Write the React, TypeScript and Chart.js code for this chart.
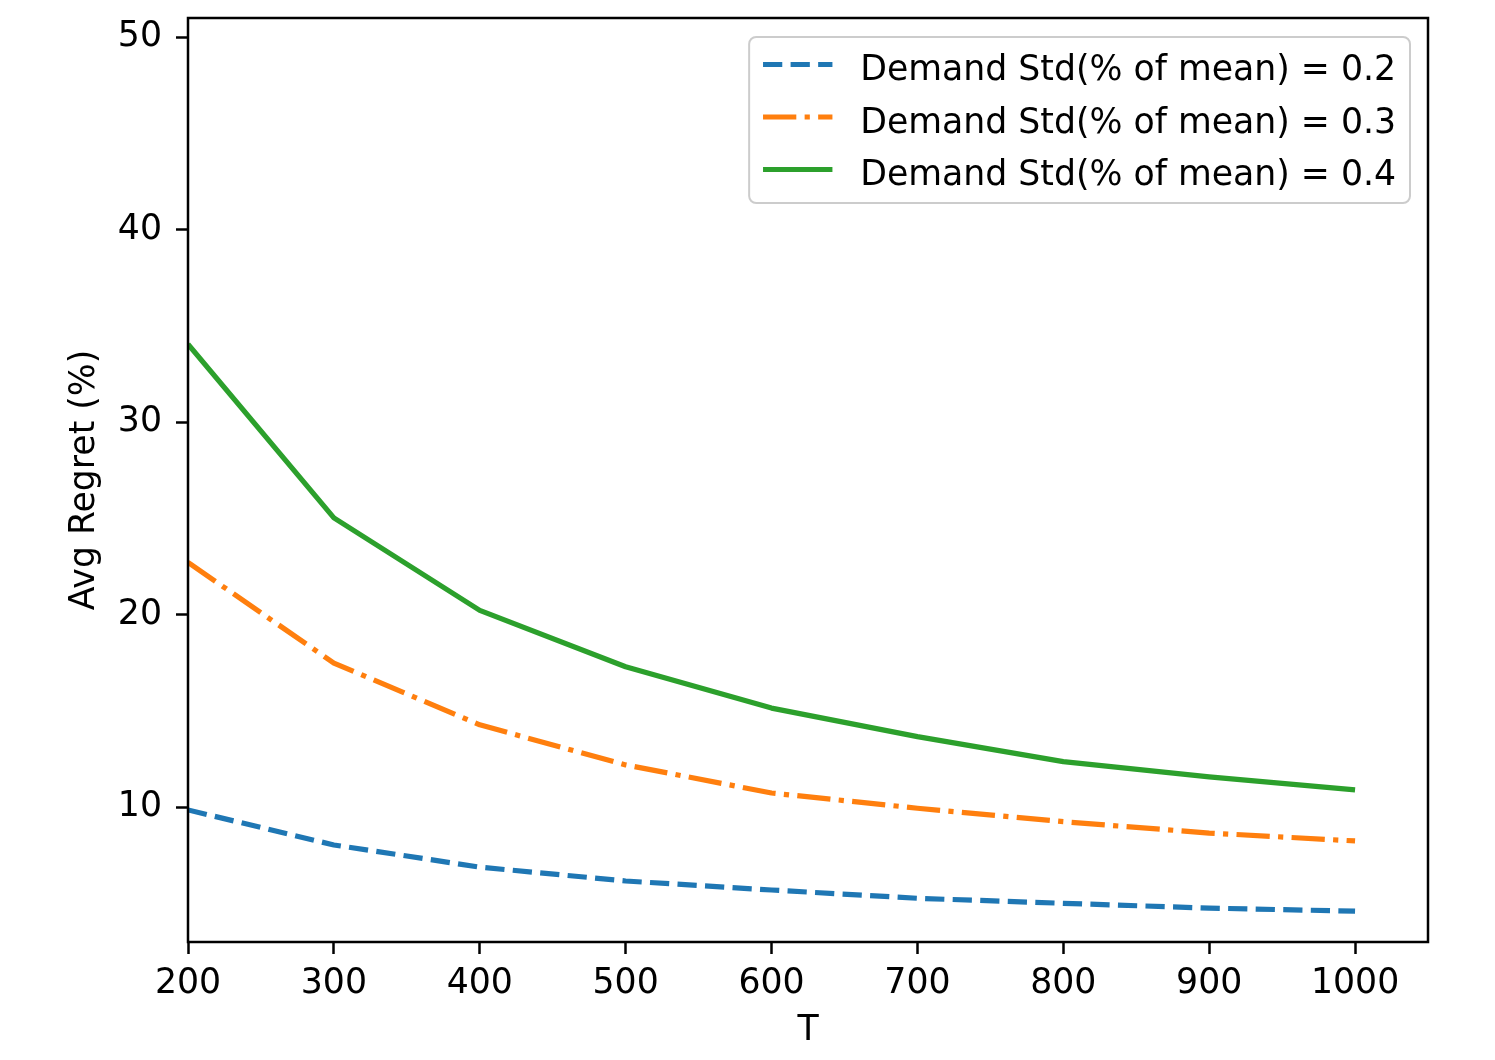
import React, { useEffect, useRef } from 'react';
import { Chart, registerables } from 'chart.js';

Chart.register(...registerables);

// values
const tValues = [200, 300, 400, 500, 600, 700, 800, 900, 1000];
const regretStd02 = [9.86, 8.04, 6.89, 6.17, 5.70, 5.27, 5.01, 4.76, 4.60];
const regretStd03 = [22.72, 17.49, 14.28, 12.20, 10.74, 9.95, 9.25, 8.66, 8.25];
const regretStd04 = [34.05, 25.03, 20.23, 17.30, 15.15, 13.67, 12.37, 11.58, 10.90];
const seriesLabels = [
    'Demand Std(% of mean) = 0.2',
    'Demand Std(% of mean) = 0.3',
    'Demand Std(% of mean) = 0.4',
];
const xTickValues = [200, 300, 400, 500, 600, 700, 800, 900, 1000];
const yTickValues = [10, 20, 30, 40, 50];

const FONT_FAMILY = '"DejaVu Sans", sans-serif';
const FONT_SIZE = 34.7;
const LW = 5.2; // matplotlib 1.5pt at this resolution

// full axes frame, drawn over the lines like matplotlib spines
const framePlugin = {
    id: 'frame',
    afterDatasetsDraw(chart) {
        const { ctx, chartArea } = chart;
        ctx.save();
        ctx.strokeStyle = '#000';
        ctx.lineWidth = 2.5;
        ctx.strokeRect(chartArea.left, chartArea.top, chartArea.right - chartArea.left, chartArea.bottom - chartArea.top);
        ctx.restore();
    },
};

// legend placed inside the axes at the upper right
const insideLegendPlugin = {
    id: 'insideLegend',
    afterDraw(chart) {
        const { ctx, chartArea } = chart;
        const datasets = chart.data.datasets;
        ctx.save();
        ctx.font = `${FONT_SIZE}px ${FONT_FAMILY}`;
        const textWidth = Math.max(...datasets.map(d => ctx.measureText(d.label).width));
        const borderPad = 0.4 * FONT_SIZE;
        const handleLen = 2.0 * FONT_SIZE;
        const handlePad = 0.8 * FONT_SIZE;
        const right = chartArea.right - 18;
        const top = chartArea.top + 19;
        const width = borderPad * 2 + handleLen + handlePad + textWidth;
        const left = right - width;
        const rowGap = 52.5;
        const height = 166;

        ctx.beginPath();
        ctx.roundRect(left, top, width, height, 7);
        ctx.fillStyle = 'rgba(255,255,255,0.8)';
        ctx.fill();
        ctx.strokeStyle = '#cccccc';
        ctx.lineWidth = 2;
        ctx.stroke();

        datasets.forEach((d, i) => {
            const y = top + 27.5 + i * rowGap;
            const hx = left + borderPad;
            ctx.beginPath();
            ctx.setLineDash(d.borderDash || []);
            ctx.lineDashOffset = 0;
            ctx.lineCap = 'butt';
            ctx.strokeStyle = d.borderColor;
            ctx.lineWidth = LW;
            ctx.moveTo(hx, y);
            ctx.lineTo(hx + handleLen, y);
            ctx.stroke();
            ctx.setLineDash([]);
            ctx.fillStyle = '#000';
            ctx.textAlign = 'left';
            ctx.textBaseline = 'alphabetic';
            ctx.fillText(d.label, hx + handleLen + handlePad, y + 15.5);
        });
        ctx.restore();
    },
};

const RegretChart = () => {
    const chartRef = useRef(null);
    const chartInstanceRef = useRef(null);

    useEffect(() => {
        if (!chartRef.current) return;
        const ctx = chartRef.current.getContext('2d');
        if (!ctx) return;

        const toPoints = (vals) => vals.map((v, i) => ({ x: tValues[i], y: v }));
        const font = { family: FONT_FAMILY, size: FONT_SIZE };

        const config = {
            type: 'line',
            data: {
                datasets: [
                    {
                        label: seriesLabels[0],
                        data: toPoints(regretStd02),
                        borderColor: '#1f77b4',
                        borderDash: [3.7 * LW, 1.6 * LW],
                    },
                    {
                        label: seriesLabels[1],
                        data: toPoints(regretStd03),
                        borderColor: '#ff7f0e',
                        borderDash: [6.4 * LW, 1.6 * LW, 1.0 * LW, 1.6 * LW],
                    },
                    {
                        label: seriesLabels[2],
                        data: toPoints(regretStd04),
                        borderColor: '#2ca02c',
                    },
                ].map(d => ({
                    ...d,
                    borderWidth: LW,
                    pointRadius: 0,
                    tension: 0,
                    fill: false,
                    borderJoinStyle: 'round',
                    borderCapStyle: 'butt',
                })),
            },
            options: {
                animation: false,
                responsive: true,
                maintainAspectRatio: false,
                layout: {
                    autoPadding: false,
                    padding: { left: 0, top: 18, right: 67, bottom: 0 },
                },
                scales: {
                    x: {
                        type: 'linear',
                        min: 200,
                        max: 1050,
                        afterBuildTicks: (scale) => { scale.ticks = xTickValues.map(value => ({ value })); },
                        afterFit: (scale) => {
                            scale.height = 118;
                            scale.paddingLeft = 0;
                            scale.paddingRight = 0;
                        },
                        ticks: {
                            callback: (value) => String(value),
                            color: '#000',
                            font,
                            padding: 9,
                            maxRotation: 0,
                            autoSkip: false,
                        },
                        grid: {
                            drawOnChartArea: false,
                            drawTicks: true,
                            tickLength: 12,
                            tickWidth: 2.5,
                            tickColor: '#000',
                        },
                        border: { display: false },
                        title: {
                            display: true,
                            text: 'T',
                            color: '#000',
                            font,
                            padding: { top: 0, bottom: 8 },
                        },
                    },
                    y: {
                        type: 'linear',
                        min: 3,
                        max: 51,
                        afterBuildTicks: (scale) => { scale.ticks = yTickValues.map(value => ({ value })); },
                        afterFit: (scale) => {
                            scale.width = 188;
                            scale.paddingTop = 0;
                            scale.paddingBottom = 0;
                        },
                        ticks: {
                            callback: (value) => String(value),
                            color: '#000',
                            font,
                            padding: 14,
                        },
                        grid: {
                            drawOnChartArea: false,
                            drawTicks: true,
                            tickLength: 12,
                            tickWidth: 2.5,
                            tickColor: '#000',
                        },
                        border: { display: false },
                        title: {
                            display: true,
                            text: 'Avg Regret (%)',
                            color: '#000',
                            font,
                            padding: { top: 64, bottom: 0 },
                        },
                    },
                },
                plugins: {
                    legend: { display: false },
                    tooltip: { enabled: false },
                },
            },
            plugins: [framePlugin, insideLegendPlugin],
        };

        chartInstanceRef.current = new Chart(ctx, config);

        return () => {
            if (chartInstanceRef.current) {
                chartInstanceRef.current.destroy();
                chartInstanceRef.current = null;
            }
        };
    }, []);

    return (
        <div style={{ position: 'absolute', left: 0, top: 0, width: '1495px', height: '1060px', background: '#fff' }}>
            <canvas ref={chartRef} />
        </div>
    );
};

export default function App() {
    return <RegretChart />;
}
